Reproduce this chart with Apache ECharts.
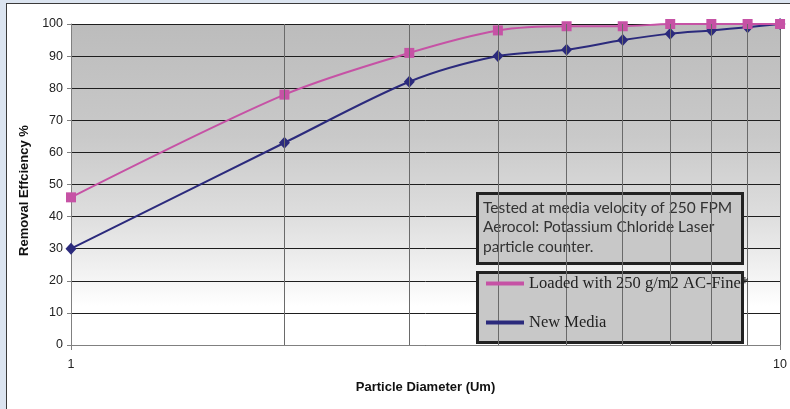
<!DOCTYPE html>
<html>
<head>
<meta charset="utf-8">
<script src="https://cdn.jsdelivr.net/npm/echarts@6/dist/echarts.min.js"></script>
<style>
  html, body { margin: 0; padding: 0; width: 790px; height: 409px; overflow: hidden; background: #dbe4f0; }
  #frame { position: absolute; left: 6px; top: 3px; width: 900px; height: 500px; background: #ffffff; border-left: 1px solid #3a3a3a; border-top: 1px solid #3a3a3a; }
  #chart { position: absolute; left: 0; top: 0; width: 790px; height: 409px; }
</style>
</head>
<body>
<div id="frame"></div>
<div id="chart"></div>
<script>
// ---- data ----
const diameters = [1, 2, 3, 4, 5, 6, 7, 8, 9, 10];
const loadedEfficiency = [46, 78, 91, 98, 99.3, 99.3, 100, 100, 100, 100];
const newMediaEfficiency = [30, 63, 82, 90, 92, 95, 97, 98, 99, 100];
const minorGridDiameters = [2, 3, 4, 5, 6, 7, 8, 9];
const seriesNames = ['Loaded with 250 g/m2 AC-Fine*', 'New Media'];
const noteLines = ['Tested at media velocity of 250 FPM', 'Aerocol: Potassium Chloride Laser', 'particle counter.'];

const chart = echarts.init(document.getElementById('chart'), null, { renderer: 'canvas' });

const pairs = (xs, ys) => xs.map((x, i) => [x, ys[i]]);

const option = {
  backgroundColor: 'transparent',
  animation: false,
  grid: {
    left: 71, right: 9, top: 24, bottom: 64,
    show: true,
    borderWidth: 0,
    backgroundColor: {
      type: 'linear', x: 0, y: 0, x2: 0, y2: 1,
      colorStops: [
        { offset: 0, color: '#bcbcbc' },
        { offset: 0.35, color: '#c9c9c9' },
        { offset: 0.6, color: '#dedede' },
        { offset: 0.8, color: '#f5f5f5' },
        { offset: 0.88, color: '#ffffff' },
        { offset: 1, color: '#ffffff' }
      ]
    }
  },
  xAxis: {
    type: 'log',
    logBase: 10,
    min: 1,
    max: 10,
    name: 'Particle Diameter (Um)',
    nameLocation: 'middle',
    nameGap: 36,
    nameTextStyle: { fontFamily: 'Liberation Sans', fontWeight: 'bold', fontSize: 13, color: '#111' },
    axisLine: { show: true, lineStyle: { color: '#808080', width: 1 } },
    axisTick: { show: true, length: 5, lineStyle: { color: '#808080' } },
    axisLabel: { fontFamily: 'Liberation Sans', fontSize: 12.5, color: '#222', margin: 13 },
    splitLine: { show: true, lineStyle: { color: '#6a6a6a', width: 1 } }
  },
  yAxis: {
    type: 'value',
    min: 0,
    max: 100,
    interval: 10,
    name: 'Removal Effciency %',
    nameLocation: 'middle',
    nameGap: 37,
    nameTextStyle: { fontFamily: 'Liberation Sans', fontWeight: 'bold', fontSize: 13, color: '#111', padding: [0, 12, 0, 0] },
    axisLine: { show: true, lineStyle: { color: '#808080', width: 1 } },
    axisTick: { show: true, length: 4, lineStyle: { color: '#808080' } },
    axisLabel: { fontFamily: 'Liberation Sans', fontSize: 12.5, color: '#222', margin: 8 },
    splitLine: { show: true, lineStyle: { color: '#1e1e1e', width: 1 } }
  },
  legend: {
    data: seriesNames,
    orient: 'vertical',
    left: 486,
    top: 275,
    padding: 0,
    itemWidth: 38,
    itemHeight: 4,
    itemGap: 22,
    icon: 'rect',
    z: 30,
    textStyle: { fontFamily: 'Liberation Serif', fontSize: 16.5, color: '#222', lineHeight: 17 }
  },
  graphic: [
    {
      type: 'rect', z: 2,
      shape: { x: 477.5, y: 193.5, width: 265, height: 70 },
      style: { fill: '#c8c8c8', stroke: '#222', lineWidth: 3 }
    },
    {
      type: 'text', z: 3,
      x: 483, y: 198,
      style: { text: noteLines.join('\n'), font: '15.5px Lato', lineHeight: 19.5, fill: '#333' }
    },
    {
      type: 'rect', z: 2,
      shape: { x: 477.5, y: 272.5, width: 265, height: 70 },
      style: { fill: '#c8c8c8', stroke: '#222', lineWidth: 3 }
    }
  ],
  series: [
    {
      name: 'gridlines',
      type: 'line',
      data: [],
      z: 1,
      silent: true,
      markLine: {
        silent: true,
        symbol: 'none',
        label: { show: false },
        lineStyle: { color: '#6a6a6a', width: 1, type: 'solid' },
        emphasis: { disabled: true },
        data: minorGridDiameters.map(v => ({ xAxis: v }))
      }
    },
    {
      name: seriesNames[1],
      type: 'line',
      z: 3,
      data: pairs(diameters, newMediaEfficiency),
      smooth: 0.3,
      symbol: 'diamond',
      symbolSize: [11, 12],
      lineStyle: { color: '#2b2a7c', width: 2 },
      itemStyle: { color: '#2b2a7c' }
    },
    {
      name: seriesNames[0],
      type: 'line',
      z: 4,
      data: pairs(diameters, loadedEfficiency),
      smooth: 0.3,
      symbol: 'rect',
      symbolSize: 10,
      lineStyle: { color: '#c652a5', width: 2 },
      itemStyle: { color: '#c652a5' }
    }
  ]
};

chart.setOption(option);
</script>
</body>
</html>
